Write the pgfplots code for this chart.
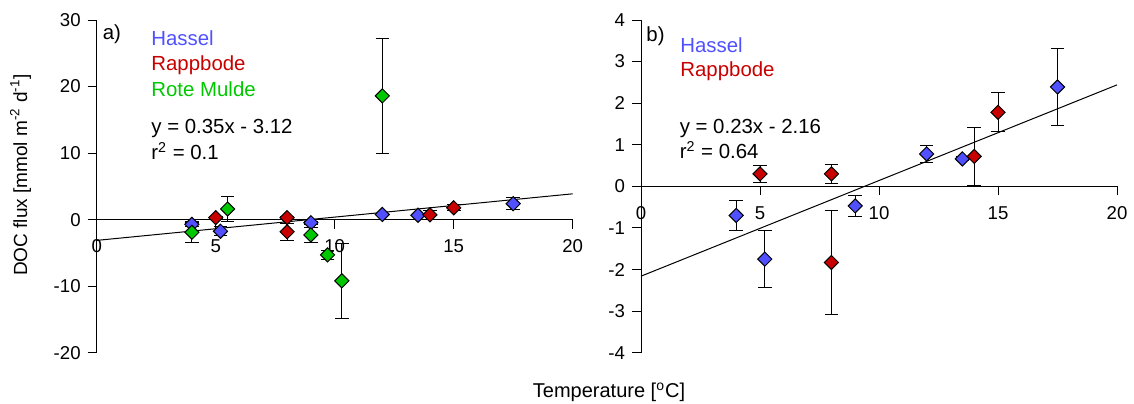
\documentclass[border=0pt]{standalone}
\usepackage{pgfplots}
\pgfplotsset{compat=1.18}
\usepackage{pgfplotstable}
\usepackage{fontspec}
\setmainfont{Liberation Sans}
\definecolor{cH}{RGB}{80,80,255}
\definecolor{cR}{RGB}{200,0,0}
\definecolor{cG}{RGB}{0,200,0}

\pgfplotstableread{
x y e
4.0 -0.70 0.35
5.2 -1.75 0.69
9.0 -0.47 0.25
12.0 0.78 0.20
13.5 0.66 0.05
17.5 2.39 0.92
}\hassel
\pgfplotstableread{
x y e
5.0 0.30 0.20
8.0 0.30 0.23
8.0 -1.83 1.24
14.0 0.72 0.70
15.0 1.78 0.47
}\rapp
\pgfplotstableread{
x y e
4.0 -1.9 1.5
5.5 1.6 1.85
9.0 -2.3 1.15
9.7 -5.3 0.65
10.3 -9.2 5.6
12.0 18.6 8.6
}\rote

\pgfplotsset{
 myax/.style={
  scale only axis, width=238pt, height=166.35pt,
  anchor=south west,
  axis x line=middle, axis y line=left,
  axis line style={-, black, line width=0.5pt},
  xmin=0, xmax=20, xtick={0,5,...,20},
  hide obscured x ticks=false, hide obscured y ticks=false,
  tick align=outside, major tick length=4.5pt,
  tick style={black, line width=0.5pt},
  ticklabel style={font=\fontsize{9.3}{11}\selectfont},
  xticklabel style={yshift=-2pt},
  /pgf/number format/assume math mode=true,
  clip=false,
 },
 ser/.style={only marks, mark=square*, mark size=2.5pt,
  mark options={rotate=45, fill=#1, draw=black, line width=0.5pt},
  error bars/.cd, y dir=both, y explicit,
  error bar style={black, line width=0.5pt},
  error mark options={black, rotate=90, mark size=3.4pt, line width=0.5pt}},
}

\begin{document}
\begin{tikzpicture}
\path[use as bounding box] (0,0) rectangle (567pt,201.5pt);
\begin{axis}[myax, at={(48.35pt,25.15pt)},
  ymin=-20, ymax=30, ytick={-20,-10,...,30}]
\addplot[black, line width=0.5pt] coordinates {(0,-3.12) (20,3.88)};
\addplot[ser=cH] table[x=x, y=y, y error=e] {\hassel};
\addplot[ser=cR] table[x=x, y=y, y error=e] {\rapp};
\addplot[ser=cG] table[x=x, y=y, y error=e] {\rote};
\end{axis}
\begin{axis}[myax, at={(320.5pt,25.15pt)},
  ymin=-4, ymax=4, ytick={-4,-3,...,4}]
\addplot[black, line width=0.5pt] coordinates {(0,-2.16) (20,2.44)};
\addplot[ser=cH] table[x=x, y=y, y error=e] {\hassel};
\addplot[ser=cR] table[x=x, y=y, y error=e] {\rapp};
\end{axis}
\begin{scope}[every node/.style={inner sep=0pt, font=\fontsize{10.2}{12}\selectfont}]
\node[anchor=base west] at (51.2pt,181.8pt) {a)};
\node[anchor=base west, text=cH] at (75.5pt,178.6pt) {Hassel};
\node[anchor=base west, text=cR] at (75.5pt,166.2pt) {Rappbode};
\node[anchor=base west, text=cG] at (75.5pt,153.5pt) {Rote Mulde};
\node[anchor=base west] at (75.5pt,134.8pt) {y = 0.35x - 3.12};
\node[anchor=base west] at (75.5pt,121.8pt) {r\textsuperscript{2} = 0.1};
\node[anchor=base west] at (323pt,181pt) {b)};
\node[anchor=base west, text=cH] at (340pt,175.3pt) {Hassel};
\node[anchor=base west, text=cR] at (340pt,163.2pt) {Rappbode};
\node[anchor=base west] at (339.7pt,134.8pt) {y = 0.23x - 2.16};
\node[anchor=base west] at (339.7pt,122.3pt) {r\textsuperscript{2} = 0.64};
\end{scope}
\node[rotate=90, anchor=base, inner sep=0pt, font=\fontsize{9.5}{11}\selectfont] at (13.5pt,114pt) {DOC flux [mmol m\textsuperscript{-2} d\textsuperscript{-1}]};
\node[anchor=base, inner sep=0pt, font=\fontsize{10}{12}\selectfont] at (304.5pt,2.85pt) {Temperature [\textsuperscript{o}C]};
\end{tikzpicture}
\end{document}
